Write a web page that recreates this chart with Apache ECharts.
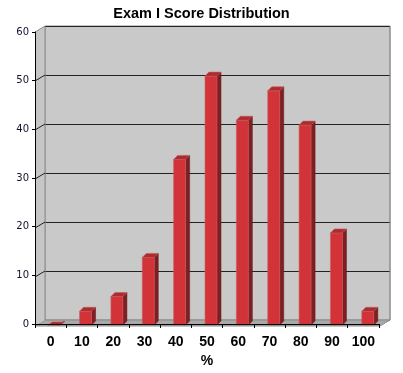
<!DOCTYPE html>
<html>
<head>
<meta charset="utf-8">
<script src="https://cdn.jsdelivr.net/npm/echarts@6/dist/echarts.min.js"></script>
<style>html,body{margin:0;padding:0;background:#fff}#c{width:403px;height:373px}</style>
</head>
<body>
<div id="c"></div>
<script>
var categories = ['0','10','20','30','40','50','60','70','80','90','100'];
var counts = [0, 3, 6, 14, 34, 51, 42, 48, 41, 19, 3];
var yTicks = [0, 10, 20, 30, 40, 50, 60];

var chart = echarts.init(document.getElementById('c'), null, {renderer: 'canvas'});

var DX = 10, DY = 6; // 3D depth offset between back wall and front axes

function frameItem(params, api) {
  var v = api.value(0);
  var bw = api.size([1, 0])[0];
  var leftB = api.coord([0, v])[0] - bw / 2;
  var rightB = api.coord([categories.length - 1, v])[0] + bw / 2;
  var y = api.coord([0, v])[1];
  var children = [];
  if (params.dataIndex === 0) {
    var yTop = api.coord([0, 60])[1];
    children.push({type: 'polygon', shape: {points: [[leftB - DX, y + DY], [rightB - DX, y + DY], [rightB, y], [leftB, y]]},
      style: {fill: '#a9a9a9', stroke: '#8a8a8a', lineWidth: 1}});
    children.push({type: 'polygon', shape: {points: [[leftB - DX, yTop + DY], [leftB, yTop], [leftB, y], [leftB - DX, y + DY]]},
      style: {fill: '#c6c6c6', stroke: null}});
    children.push({type: 'line', shape: {x1: leftB, y1: yTop, x2: leftB, y2: y}, style: {stroke: '#8c8c8c', lineWidth: 1}});
    children.push({type: 'line', shape: {x1: rightB, y1: yTop, x2: rightB, y2: y}, style: {stroke: '#8c8c8c', lineWidth: 1}});
  }
  if (v > 0) {
    children.push({type: 'line', shape: {x1: leftB - DX, y1: y + DY, x2: leftB, y2: y},
      style: {stroke: v === 60 ? '#8c8c8c' : '#222', lineWidth: 1}});
  }
  return {type: 'group', children: children};
}

function barItem(params, api) {
  var i = api.value(0), v = api.value(1);
  var c = api.coord([i, v]);
  var c0 = api.coord([i, 0]);
  var cx = c[0];
  var yb = c[1] + 2;
  var left = cx - 12.5, right = cx - 0.5, d = 4;
  var top = yb + d;
  var bottom = c0[1] + 5;
  if (top > bottom) top = bottom;
  return {type: 'group', children: [
    {type: 'polygon', shape: {points: [[right, top], [right + d, yb], [right + d, bottom - d], [right, bottom]]},
      style: {fill: '#7e1f22', stroke: '#6a1518', lineWidth: 0.5}},
    {type: 'rect', shape: {x: left, y: top, width: right - left, height: Math.max(bottom - top, 0)},
      style: {fill: '#d23338', stroke: '#c96065', lineWidth: 0.6}},
    {type: 'polygon', shape: {points: [[left, top], [left + d, yb], [right + d, yb], [right, top]]},
      style: {fill: '#ad2a2e', stroke: '#c05a5e', lineWidth: 0.6}}
  ]};
}

var option = {
  animation: false,
  backgroundColor: '#ffffff',
  title: {
    text: 'Exam I Score Distribution', left: 'center', top: 1,
    textStyle: {fontFamily: 'Liberation Sans, Arial, sans-serif', fontWeight: 'bold', fontSize: 14.5, color: '#000'}
  },
  grid: [
    {left: 45, right: 13, top: 26, bottom: 53, show: true, backgroundColor: '#c9c9c9', borderColor: '#8c8c8c', borderWidth: 1, z: 0},
    {left: 35, right: 24, top: 32, bottom: 46, show: false}
  ],
  xAxis: [
    {type: 'category', gridIndex: 0, data: categories, show: false},
    {type: 'category', gridIndex: 1, data: categories, z: 5,
      axisLine: {show: true, lineStyle: {color: '#000', width: 1}},
      axisTick: {show: true, length: 4, lineStyle: {color: '#000'}},
      axisLabel: {margin: 11, fontFamily: 'Liberation Sans, Arial, sans-serif', fontWeight: 'bold', fontSize: 14, color: '#000'},
      name: '%', nameLocation: 'middle', nameGap: 30,
      nameTextStyle: {fontFamily: 'Liberation Sans, Arial, sans-serif', fontWeight: 'bold', fontSize: 14, color: '#000'}
    }
  ],
  yAxis: [
    {type: 'value', gridIndex: 0, min: 0, max: 60, interval: 10, z: 1,
      axisLine: {show: false}, axisTick: {show: false}, axisLabel: {show: false},
      splitLine: {show: true, lineStyle: {color: '#222', width: 1}}
    },
    {type: 'value', gridIndex: 1, min: 0, max: 60, interval: 10, z: 5,
      axisLine: {show: true, lineStyle: {color: '#000', width: 1}},
      axisTick: {show: true, length: 3, lineStyle: {color: '#000'}},
      axisLabel: {margin: 6, fontFamily: 'DejaVu Sans, Verdana, sans-serif', fontSize: 10, color: '#101030'},
      splitLine: {show: false}
    }
  ],
  series: [
    {type: 'custom', name: 'frame', xAxisIndex: 0, yAxisIndex: 0, z: 2, clip: false, silent: true,
      renderItem: frameItem, data: yTicks.map(function (t) { return [t]; }), encode: {y: 0}},
    {type: 'custom', name: 'Students', xAxisIndex: 0, yAxisIndex: 0, z: 3, clip: false,
      renderItem: barItem, data: counts.map(function (v, i) { return [i, v]; }), encode: {x: 0, y: 1}}
  ]
};
chart.setOption(option);
</script>
</body>
</html>
